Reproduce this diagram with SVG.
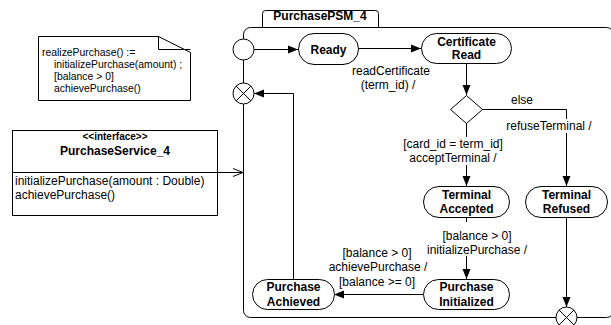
<svg xmlns="http://www.w3.org/2000/svg" width="611" height="325" viewBox="0 0 611 325">
<style>
text{font-family:"Liberation Sans",Arial,sans-serif;font-size:12px;fill:#000}
.b{font-weight:bold}
.m{text-anchor:middle}
.st{fill:#fff;stroke:#000;stroke-width:1}
.ln{fill:none;stroke:#000;stroke-width:1}
.bg{fill:#fff;stroke:none}
.note{font-size:10.4px}
</style>
<defs>
<marker id="ah" viewBox="0 0 10 10" refX="10" refY="5" markerWidth="10" markerHeight="10" markerUnits="userSpaceOnUse" orient="auto">
<path d="M0,1 L10,5 L0,9 Z" fill="#000"/>
</marker>
<marker id="oh" viewBox="0 0 10 10" refX="10" refY="5" markerWidth="10" markerHeight="10" markerUnits="userSpaceOnUse" orient="auto">
<path d="M0,1 L10,5 L0,9" fill="none" stroke="#000" stroke-width="1"/>
</marker>
</defs>

<g id="note">
<path class="st" d="M38.5,36.5 H158.5 L190.5,52.5 V100.5 H38.5 Z"/>
<path class="ln" d="M158.5,36.5 V49.5 H190.5"/>
<text class="note" x="42" y="56">realizePurchase() :=</text>
<text class="note" x="54" y="68">initializePurchase(amount) ;</text>
<text class="note" x="54" y="80">[balance &gt; 0]</text>
<text class="note" x="54" y="92">achievePurchase()</text>
</g>

<g id="frame">
<path class="st" d="M262.5,27.5 V13.5 Q262.5,10.5 265.5,10.5 H375.5 Q378.5,10.5 378.5,13.5 V27.5"/>
<text class="b m" x="320" y="20">PurchasePSM_4</text>
<rect class="ln" x="243.5" y="27.5" width="370" height="290" rx="7"/>
</g>

<g id="interface">
<rect class="st" x="12.5" y="130.5" width="205" height="85"/>
<line class="ln" x1="12.5" y1="172.5" x2="217.5" y2="172.5"/>
<text class="b m" x="115" y="140" style="font-size:10px">&lt;&lt;interface&gt;&gt;</text>
<text class="b m" x="115" y="155">PurchaseService_4</text>
<text x="15" y="185">initializePurchase(amount : Double)</text>
<text x="15" y="199">achievePurchase()</text>
</g>

<g id="initial"><circle class="st" cx="243.5" cy="49.5" r="10.5"/></g>

<g id="exit1">
<circle class="st" cx="243.5" cy="93.5" r="10.5"/>
<path class="ln" d="M236.1,86.1 L250.9,100.9 M250.9,86.1 L236.1,100.9"/>
</g>

<g id="exit2">
<circle class="st" cx="566.5" cy="317.5" r="10.5"/>
<path class="ln" d="M559.1,310.1 L573.9,324.9 M573.9,310.1 L559.1,324.9"/>
</g>

<g id="connectors">
<line class="ln" x1="254" y1="49.5" x2="298" y2="49.5" marker-end="url(#ah)"/>
<line class="ln" x1="358" y1="48.5" x2="421" y2="48.5" marker-end="url(#ah)"/>
<line class="ln" x1="466.5" y1="63" x2="466.5" y2="95" marker-end="url(#ah)"/>
<path class="ln" d="M482,109.5 H566.5 V186" marker-end="url(#ah)"/>
<line class="ln" x1="466.5" y1="123" x2="466.5" y2="186" marker-end="url(#ah)"/>
<line class="ln" x1="466.5" y1="217" x2="466.5" y2="279" marker-end="url(#ah)"/>
<line class="ln" x1="423" y1="294.5" x2="334" y2="294.5" marker-end="url(#ah)"/>
<path class="ln" d="M293.5,279 V93.5 H254" marker-end="url(#ah)"/>
<line class="ln" x1="566.5" y1="217" x2="566.5" y2="307" marker-end="url(#ah)"/>
<line class="ln" x1="217.5" y1="172.5" x2="243" y2="172.5" marker-end="url(#oh)"/>
</g>

<g id="labels">
<text class="m" x="391" y="75">readCertificate</text>
<text class="m" x="388" y="89">(term_id) /</text>
<text class="m" x="522" y="104">else</text>
<rect class="bg" x="506" y="119" width="88" height="14"/>
<text class="m" x="549" y="130">refuseTerminal /</text>
<rect class="bg" x="400" y="137" width="108" height="28"/>
<text class="m" x="453" y="148">[card_id = term_id]</text>
<text class="m" x="453" y="162">acceptTerminal /</text>
<rect class="bg" x="420" y="222" width="114" height="34"/>
<text class="m" x="477" y="240">[balance &gt; 0]</text>
<text class="m" x="477" y="254">initializePurchase /</text>
<text class="m" x="377" y="257">[balance &gt; 0]</text>
<text class="m" x="378" y="271">achievePurchase /</text>
<text class="m" x="377" y="286">[balance &gt;= 0]</text>
</g>

<g id="ready">
<rect class="st" x="298.5" y="33.5" width="60" height="31" rx="15.5"/>
<text class="b m" x="328.5" y="53.5">Ready</text>
</g>
<g id="certRead">
<rect class="st" x="421.5" y="33.5" width="90" height="30" rx="15"/>
<text class="b m" x="466.5" y="46">Certificate</text>
<text class="b m" x="466.5" y="59">Read</text>
</g>
<g id="choice"><path class="st" d="M466.5,95.5 L482.5,109.5 L466.5,123.5 L450.5,109.5 Z"/></g>
<g id="termAccepted">
<rect class="st" x="423.5" y="186.5" width="86" height="31" rx="15.5"/>
<text class="b m" x="466.5" y="199">Terminal</text>
<text class="b m" x="466.5" y="213">Accepted</text>
</g>
<g id="termRefused">
<rect class="st" x="525.5" y="186.5" width="82" height="31" rx="15.5"/>
<text class="b m" x="566.5" y="199">Terminal</text>
<text class="b m" x="566.5" y="213">Refused</text>
</g>
<g id="purchInit">
<rect class="st" x="423.5" y="279.5" width="86" height="30" rx="15"/>
<text class="b m" x="466.5" y="291">Purchase</text>
<text class="b m" x="466.5" y="306">Initialized</text>
</g>
<g id="purchAchieved">
<rect class="st" x="252.5" y="279.5" width="82" height="30" rx="15"/>
<text class="b m" x="293.5" y="291">Purchase</text>
<text class="b m" x="293.5" y="306">Achieved</text>
</g>
</svg>
